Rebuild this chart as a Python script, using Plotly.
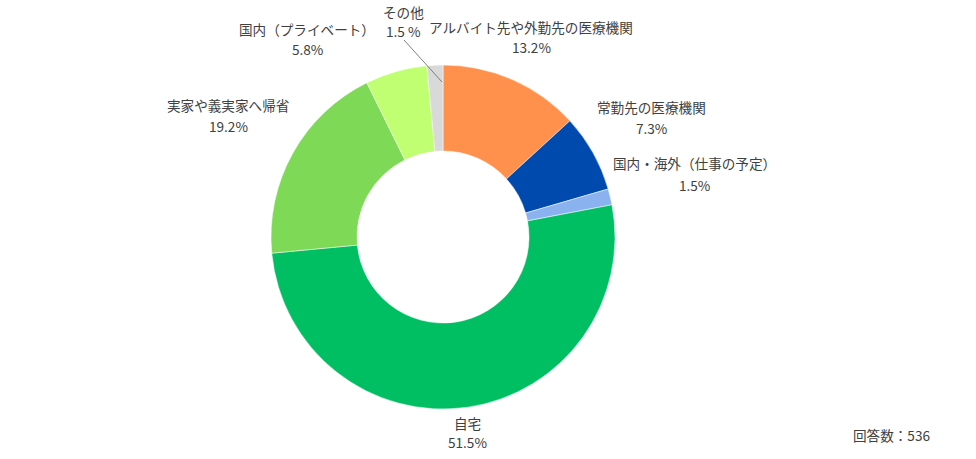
import plotly.graph_objects as go

categories = ["アルバイト先や外勤先の医療機関", "常勤先の医療機関", "国内・海外（仕事の予定）",
              "自宅", "実家や義実家へ帰省", "国内（プライベート）", "その他"]
values = [13.2, 7.3, 1.5, 51.5, 19.2, 5.8, 1.5]
value_labels = ["13.2%", "7.3%", "1.5%", "51.5%", "19.2%", "5.8%", "1.5 %"]
colors = ["#FF914D", "#004AAD", "#8AB2EE", "#00BF63", "#7ED957", "#C1FF72", "#D9D9D9"]
note = "回答数：536"

W, H = 976, 459
cx, cy, R = 443, 237, 172

fig = go.Figure(go.Pie(
    labels=categories, values=values, sort=False, direction="clockwise", rotation=0,
    hole=0.5, textinfo="none", marker=dict(colors=colors, line=dict(color="white", width=0.5)),
    domain=dict(x=[(cx - R) / W, (cx + R) / W], y=[1 - (cy + R) / H, 1 - (cy - R) / H]),
    showlegend=False, hoverinfo="label+percent",
))

# label positions: (x centre, y of first line, y of second line) in pixels
label_pos = [(531, 27, 47), (651, 107, 128), (694, 163, 185), (467, 423, 442),
             (228, 105, 126), (307, 29, 49), (403, 12, 31)]
FONT = "Noto Sans CJK JP, Noto Sans, sans-serif"
TXT = dict(size=13.6, color="#404040", family=FONT)
for cat, vl, (x, y1, y2) in zip(categories, value_labels, label_pos):
    fig.add_annotation(x=x / W, y=1 - y1 / H, xref="paper", yref="paper", showarrow=False,
                       text=cat, xanchor="center", yanchor="middle", font=TXT, borderpad=0)
    fig.add_annotation(x=x / W, y=1 - y2 / H, xref="paper", yref="paper", showarrow=False,
                       text=vl, xanchor="center", yanchor="middle", font=TXT, borderpad=0)

# leader line for その他
fig.add_shape(type="line", xref="paper", yref="paper",
              x0=404 / W, y0=1 - 40 / H, x1=442 / W, y1=1 - 82 / H,
              line=dict(color="#7F7F7F", width=1))

fig.add_annotation(x=931 / W, y=1 - 435 / H, xref="paper", yref="paper", showarrow=False,
                   text=note, xanchor="right", yanchor="middle", font=TXT, borderpad=0)

fig.update_layout(width=W, height=H, margin=dict(l=0, r=0, t=0, b=0),
                  paper_bgcolor="white", plot_bgcolor="white")
fig.write_html("out.html")
